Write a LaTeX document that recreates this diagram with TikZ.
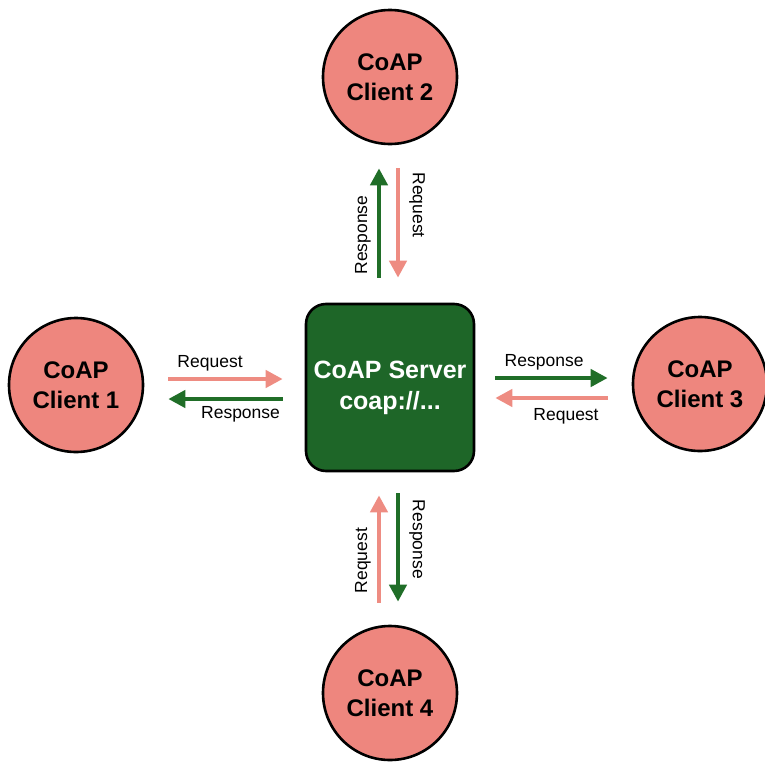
\documentclass[tikz,border=0pt]{standalone}
\usepackage{fontspec}
\setmainfont{Liberation Sans}
\usetikzlibrary{arrows.meta}
\definecolor{clientpink}{RGB}{238,134,126}
\definecolor{reqpink}{RGB}{238,140,130}
\definecolor{srvgreen}{RGB}{30,102,40}
\definecolor{respgreen}{RGB}{32,110,40}
\tikzset{
  client/.style={circle, draw=black, line width=2.6pt, fill=clientpink,
    minimum size=134pt, inner sep=0pt, align=center,
    font=\fontsize{24}{30}\selectfont\bfseries},
  server/.style={rectangle, rounded corners=20pt, draw=black, line width=2.6pt,
    fill=srvgreen, minimum width=168pt, minimum height=167pt, align=center,
    text=white, font=\fontsize{25}{31}\selectfont\bfseries},
  msg/.style={line width=4.3pt, -{Triangle[length=17pt,width=17pt]}},
  req/.style={msg, draw=reqpink, color=reqpink},
  resp/.style={msg, draw=respgreen, color=respgreen},
  lbl/.style={font=\fontsize{17.5}{20}\selectfont, text=black}
}
\begin{document}
\begin{tikzpicture}[x=1pt,y=-1pt]
  \useasboundingbox (0,0) rectangle (765,769);

  % server and clients
  \node[server] (srv) at (390,387.5) {CoAP Server\\coap://...};
  \node[client] (c1) at (76,385) {CoAP\\Client 1};
  \node[client] (c2) at (390,77) {CoAP\\Client 2};
  \node[client] (c3) at (700,384) {CoAP\\Client 3};
  \node[client] (c4) at (390,693) {CoAP\\Client 4};

  % client 1 <-> server
  \draw[req, shorten <=24pt, shorten >=22pt]
    ([yshift=8.5pt]srv.west -| c1.east) --
    node[lbl, pos=0.41, anchor=south, inner sep=6pt] {Request}
    ([yshift=8.5pt]srv.west);
  \draw[resp, shorten <=22pt, shorten >=24pt]
    ([yshift=-11.5pt]srv.west) --
    node[lbl, pos=0.40, anchor=north, inner sep=5pt] {Response}
    ([yshift=-11.5pt]srv.west -| c1.east);

  % server <-> client 3
  \draw[resp, shorten <=20pt, shorten >=24pt]
    ([yshift=9.5pt]srv.east) --
    node[lbl, pos=0.44, anchor=south, inner sep=6pt] {Response}
    ([yshift=9.5pt]srv.east -| c3.west);
  \draw[req, shorten <=24pt, shorten >=20pt]
    ([yshift=-10.5pt]srv.east -| c3.west) --
    node[lbl, pos=0.42, anchor=north, inner sep=8pt] {Request}
    ([yshift=-10.5pt]srv.east);

  % server <-> client 2
  \draw[resp, shorten <=25pt, shorten >=23pt]
    ([xshift=-11pt]srv.north) --
    node[lbl, pos=0.43, rotate=90, anchor=south, inner sep=6pt] {Response}
    ([xshift=-11pt]srv.north |- c2.south);
  \draw[req, shorten <=23pt, shorten >=25pt]
    ([xshift=8pt]srv.north |- c2.south) --
    node[lbl, pos=0.38, rotate=-90, anchor=south, inner sep=9pt] {Request}
    ([xshift=8pt]srv.north);

  % server <-> client 4
  \draw[req, shorten <=22pt, shorten >=23pt]
    ([xshift=-11pt]srv.south |- c4.north) --
    node[lbl, pos=0.42, rotate=90, anchor=south, inner sep=6pt] {Request}
    ([xshift=-11pt]srv.south);
  \draw[resp, shorten <=21pt, shorten >=23pt]
    ([xshift=8pt]srv.south) --
    node[lbl, pos=0.44, rotate=-90, anchor=south, inner sep=9pt] {Response}
    ([xshift=8pt]srv.south |- c4.north);
\end{tikzpicture}
\end{document}
